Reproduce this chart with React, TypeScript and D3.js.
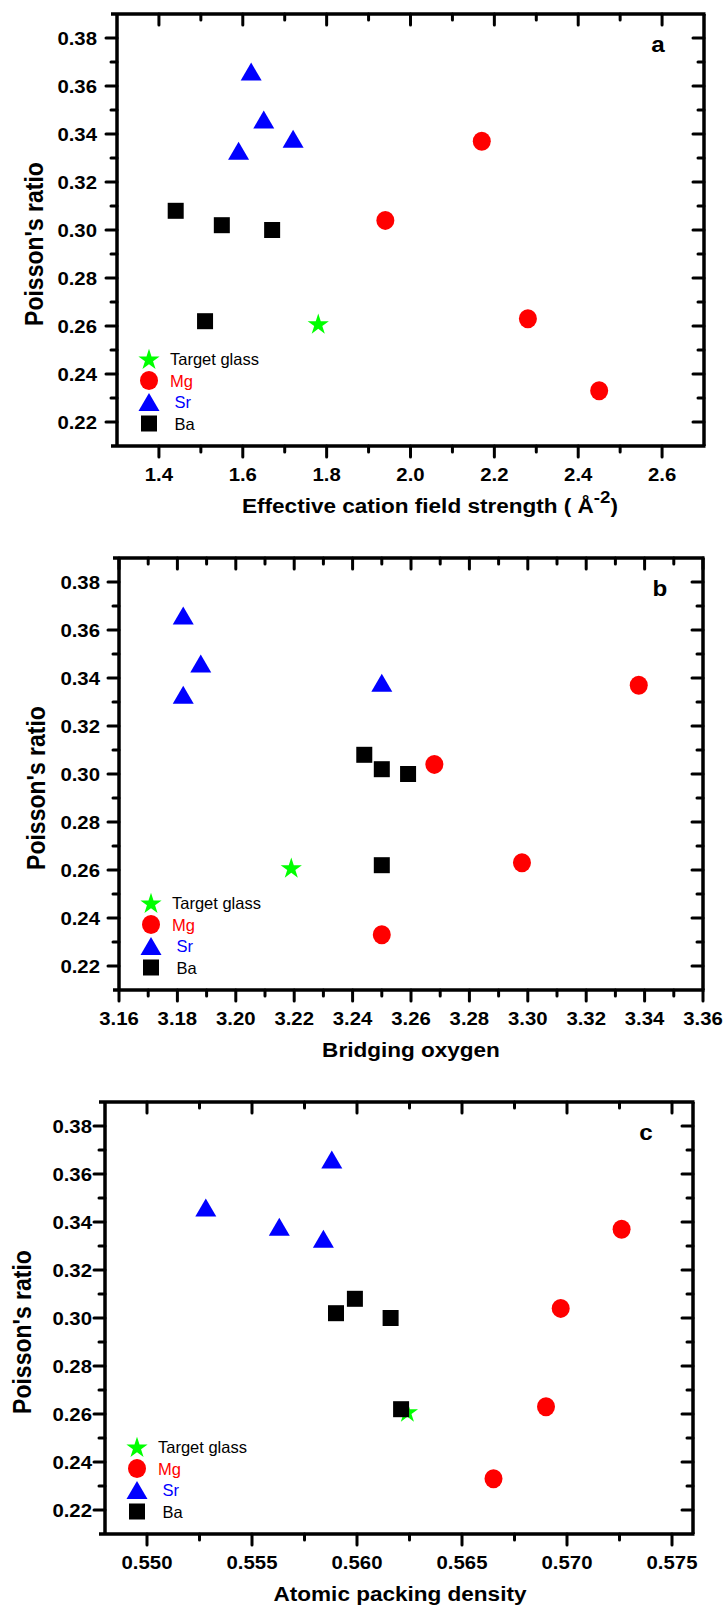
import React from "react";
import * as d3 from "d3";

// Poisson's ratio of each glass, shared by the three panels
const ratioTarget = [0.261];
const ratioMg = [0.337, 0.304, 0.263, 0.233];
const ratioSr = [0.366, 0.346, 0.333, 0.338];
const ratioBa = [0.308, 0.302, 0.300, 0.262];

// (a) effective cation field strength, Å^-2
const fieldTarget = [1.78];
const fieldMg = [2.17, 1.94, 2.28, 2.45];
const fieldSr = [1.62, 1.65, 1.59, 1.72];
const fieldBa = [1.44, 1.55, 1.67, 1.51];

// (b) bridging oxygen
const boTarget = [3.219];
const boMg = [3.338, 3.268, 3.298, 3.25];
const boSr = [3.182, 3.188, 3.182, 3.25];
const boBa = [3.244, 3.25, 3.259, 3.25];

// (c) atomic packing density
const apdTarget = [0.5624];
const apdMg = [0.5726, 0.5697, 0.569, 0.5665];
const apdSr = [0.5588, 0.5528, 0.5584, 0.5563];
const apdBa = [0.5599, 0.559, 0.5616, 0.5621];

const legendLabels = ["Target glass", "Mg", " Sr", " Ba"];
const yTicks = [0.22, 0.24, 0.26, 0.28, 0.3, 0.32, 0.34, 0.36, 0.38];
const xTicksA = [1.4, 1.6, 1.8, 2.0, 2.2, 2.4, 2.6];
const xTicksB = [3.16, 3.18, 3.2, 3.22, 3.24, 3.26, 3.28, 3.3, 3.32, 3.34, 3.36];
const xTicksC = [0.55, 0.555, 0.56, 0.565, 0.57, 0.575];

const FONT = "'Liberation Sans', Arial, Helvetica, sans-serif";
const SX = 1.1; // horizontal text stretch
const COLORS = { target: "#00ff00", mg: "#ff0000", sr: "#0000ff", ba: "#000000" };

type Kind = "target" | "mg" | "sr" | "ba";

function Marker({ kind, x, y }: { kind: Kind; x: number; y: number }) {
  const fill = COLORS[kind];
  if (kind === "target") {
    const d = d3.symbol(d3.symbolStar, 140)() as string;
    return <path d={d} transform={`translate(${x},${y + 1})`} fill={fill} />;
  }
  if (kind === "mg") return <ellipse cx={x} cy={y} rx={9} ry={9.5} fill={fill} />;
  if (kind === "sr") {
    const p = d3.path();
    p.moveTo(x, y - 9);
    p.lineTo(x + 10.5, y + 9);
    p.lineTo(x - 10.5, y + 9);
    p.closePath();
    return <path d={p.toString()} fill={fill} />;
  }
  return <rect x={x - 8} y={y - 8} width={16} height={16} fill={fill} />;
}

interface PanelSpec {
  left: number;
  right: number;
  top: number;
  bottom: number;
  xDomain: [number, number];
  xTicks: number[];
  xMinorStep: number;
  xFormat: (v: number) => string;
  letter: string;
  xLabel: React.ReactNode;
  xLabelX: number;
  yLabelGap: number;
  xs: Record<Kind, number[]>;
}

function Panel({ s }: { s: PanelSpec }) {
  const x = d3.scaleLinear().domain(s.xDomain).range([s.left, s.right]);
  const y = d3.scaleLinear().domain([0.21, 0.39]).range([s.bottom, s.top]);
  const major = 11;
  const minor = 6;

  const xMinor = d3
    .range(Math.ceil(s.xDomain[0] / s.xMinorStep) * s.xMinorStep, s.xDomain[1], s.xMinorStep)
    .filter((v) => !s.xTicks.some((t) => Math.abs(t - v) < s.xMinorStep / 10))
    .filter((v) => v > s.xDomain[0] + 1e-9 && v < s.xDomain[1] - 1e-9);
  const yMinor = d3.range(0.23, 0.39, 0.02);

  const tk = { stroke: "#000", strokeWidth: 3, strokeLinecap: "round" as const };
  const ratios: Record<Kind, number[]> = { target: ratioTarget, mg: ratioMg, sr: ratioSr, ba: ratioBa };
  const order: Kind[] = ["target", "mg", "sr", "ba"];

  return (
    <g>
      {/* ticks: bottom/left outward, top/right inward */}
      {s.xTicks.map((t) => (
        <g key={"xt" + t}>
          <line x1={x(t)} x2={x(t)} y1={s.bottom} y2={s.bottom + major} {...tk} />
          <line x1={x(t)} x2={x(t)} y1={s.top} y2={s.top + major} {...tk} />
        </g>
      ))}
      {xMinor.map((t) => (
        <g key={"xm" + t}>
          <line x1={x(t)} x2={x(t)} y1={s.bottom} y2={s.bottom + minor} {...tk} />
          <line x1={x(t)} x2={x(t)} y1={s.top} y2={s.top + minor} {...tk} />
        </g>
      ))}
      {yTicks.map((t) => (
        <g key={"yt" + t}>
          <line x1={s.left - major} x2={s.left} y1={y(t)} y2={y(t)} {...tk} />
          <line x1={s.right - major} x2={s.right} y1={y(t)} y2={y(t)} {...tk} />
        </g>
      ))}
      {yMinor.map((t) => (
        <g key={"ym" + t}>
          <line x1={s.left - minor} x2={s.left} y1={y(t)} y2={y(t)} {...tk} />
          <line x1={s.right - minor} x2={s.right} y1={y(t)} y2={y(t)} {...tk} />
        </g>
      ))}

      {/* frame */}
      <line x1={s.left - 6} x2={s.right + 1.5} y1={s.top} y2={s.top} stroke="#000" strokeWidth={3.5} />
      <line x1={s.left - 6} x2={s.right + 1.5} y1={s.bottom} y2={s.bottom} stroke="#000" strokeWidth={3.5} />
      <line x1={s.left} x2={s.left} y1={s.top} y2={s.bottom} stroke="#000" strokeWidth={3.5} />
      <line x1={s.right} x2={s.right} y1={s.top} y2={s.bottom} stroke="#000" strokeWidth={3.5} />

      {/* tick labels */}
      {s.xTicks.map((t) => (
        <text
          key={"xl" + t}
          transform={`translate(${x(t)},${s.bottom + 35}) scale(${SX},1)`}
          textAnchor="middle"
          fontFamily={FONT}
          fontWeight="bold"
          fontSize={18.5}
        >
          {s.xFormat(t)}
        </text>
      ))}
      {yTicks.map((t) => (
        <text
          key={"yl" + t}
          transform={`translate(${s.left - s.yLabelGap},${y(t) + 6.6}) scale(${SX},1)`}
          textAnchor="end"
          fontFamily={FONT}
          fontWeight="bold"
          fontSize={18.5}
        >
          {d3.format(".2f")(t)}
        </text>
      ))}

      {/* axis titles */}
      <text
        transform={`translate(${s.left - 74},${s.top + 230}) scale(${SX},1) rotate(-90)`}
        textAnchor="middle"
        fontFamily={FONT}
        fontWeight="bold"
        fontSize={23}
      >
        Poisson's ratio
      </text>
      <text
        transform={`translate(${s.xLabelX},${s.bottom + 67}) scale(${SX},1)`}
        textAnchor="middle"
        fontFamily={FONT}
        fontWeight="bold"
        fontSize={20.5}
      >
        {s.xLabel}
      </text>
      <text
        transform={`translate(${s.left + 541},${s.top + 38}) scale(${SX},1)`}
        textAnchor="middle"
        fontFamily={FONT}
        fontWeight="bold"
        fontSize={22}
      >
        {s.letter}
      </text>

      {/* data */}
      {order.map((k) =>
        s.xs[k].map((v, i) => <Marker key={k + i} kind={k} x={x(v)} y={y(ratios[k][i])} />)
      )}

      {/* legend */}
      {order.map((k, i) => {
        const cy = s.top + 345 + i * 21.5;
        return (
          <g key={"lg" + k}>
            <Marker kind={k} x={s.left + 32} y={cy} />
            <text
              transform={`translate(${s.left + 53},${cy + 6})`}
              fontFamily={FONT}
              fontSize={16.5}
              fill={k === "target" || k === "ba" ? "#000" : COLORS[k]}
              style={{ whiteSpace: "pre" }}
            >
              {legendLabels[i]}
            </text>
          </g>
        );
      })}
    </g>
  );
}

const panels: PanelSpec[] = [
  {
    left: 117,
    right: 704,
    top: 14,
    bottom: 446,
    xDomain: [1.3, 2.7],
    xTicks: xTicksA,
    xMinorStep: 0.1,
    xFormat: d3.format(".1f"),
    letter: "a",
    xLabel: (
      <>
        Effective cation field strength ( Å
        <tspan dy={-10} fontSize={17}>
          -2
        </tspan>
        <tspan dy={10}>)</tspan>
      </>
    ),
    xLabelX: 430,
    yLabelGap: 20,
    xs: { target: fieldTarget, mg: fieldMg, sr: fieldSr, ba: fieldBa },
  },
  {
    left: 119,
    right: 703,
    top: 558,
    bottom: 990,
    xDomain: [3.16, 3.36],
    xTicks: xTicksB,
    xMinorStep: 0.01,
    xFormat: d3.format(".2f"),
    letter: "b",
    xLabel: "Bridging oxygen",
    xLabelX: 411,
    yLabelGap: 19,
    xs: { target: boTarget, mg: boMg, sr: boSr, ba: boBa },
  },
  {
    left: 105,
    right: 693,
    top: 1102,
    bottom: 1534,
    xDomain: [0.548, 0.576],
    xTicks: xTicksC,
    xMinorStep: 0.0025,
    xFormat: d3.format(".3f"),
    letter: "c",
    xLabel: "Atomic packing density",
    xLabelX: 400,
    yLabelGap: 13,
    xs: { target: apdTarget, mg: apdMg, sr: apdSr, ba: apdBa },
  },
];

export default function App() {
  return (
    <svg
      width={727}
      height={1609}
      viewBox="0 0 727 1609"
      style={{ position: "absolute", left: 0, top: 0, background: "#fff" }}
    >
      <rect width={727} height={1609} fill="#fff" />
      {panels.map((p) => (
        <Panel key={p.letter} s={p} />
      ))}
    </svg>
  );
}
